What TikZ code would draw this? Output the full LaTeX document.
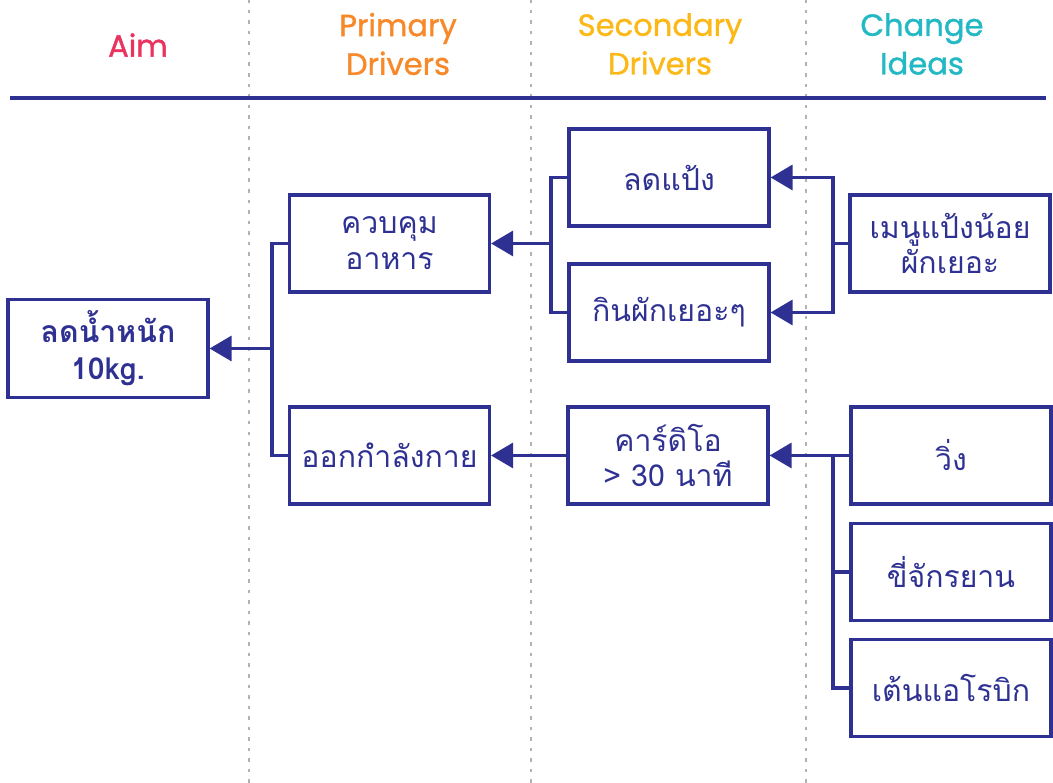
\documentclass[tikz,border=0pt]{standalone}
\usepackage{fontspec}
\newfontfamily\thaifont[Script=Thai]{Loma}
\newfontfamily\headfont[FakeBold=1.2]{Poppins}
\usetikzlibrary{arrows.meta}
\definecolor{navy}{HTML}{2E3192}
\definecolor{aimcol}{HTML}{E8345F}
\definecolor{primcol}{HTML}{F7892B}
\definecolor{seccol}{HTML}{FBB817}
\definecolor{ideacol}{HTML}{22B8C4}
\tikzset{
  box/.style={draw=navy, line width=0.9pt, rectangle, minimum width=2cm, minimum height=0.97cm, inner xsep=1pt, align=center, text=navy, font=\thaifont\fontsize{8.6}{10.2}\selectfont},
  link/.style={draw=navy, line width=0.9pt},
  tip/.style={link, -{Triangle[length=0.22cm, width=0.25cm]}},
  head/.style={font=\headfont\fontsize{8.7}{11}\selectfont, align=center},
  sep/.style={gray!60, dash pattern=on 1pt off 2pt, line width=0.5pt}
}
\begin{document}
\begin{tikzpicture}
\useasboundingbox (0,0) rectangle (10.53,7.83);

% column separators
\foreach \x in {2.49, 5.31, 8.06}
  \draw[sep] (\x,0)--(\x,7.83);
\draw[navy, line width=1pt] (0.1,6.85)--(10.46,6.85);

% headers
\node[head, text=aimcol] (haim) at (1.38,7.38) {Aim};
\node[head, text=primcol] (hprim) at (3.98,7.39) {Primary\\Drivers};
\node[head, text=seccol] (hsec) at (6.6,7.39) {Secondary\\Drivers};
\node[head, text=ideacol] (hidea) at (9.22,7.39) {Change\\Ideas};

% boxes
\node[box, font=\thaifont\bfseries\fontsize{8.6}{10.5}\selectfont] (aim) at (1.08,4.345) {ลดน้ำหนัก\\10kg.};
\node[box] (ctrl) at (3.895,5.395) {ควบคุม\\อาหาร};
\node[box] (exer) at (3.895,3.275) {ออกกำลังกาย};
\node[box] (flour) at (6.69,6.055) {ลดแป้ง};
\node[box] (veg) at (6.69,4.705) {กินผักเยอะๆ};
\node[box] (cardio) at (6.68,3.275) {คาร์ดิโอ\\> 30 นาที};
\node[box] (menu) at (9.5,5.395) {เมนูแป้งน้อย\\ผักเยอะ};
\node[box] (run) at (9.51,3.275) {วิ่ง};
\node[box] (bike) at (9.51,2.11) {ขี่จักรยาน};
\node[box] (dance) at (9.51,0.95) {เต้นแอโรบิก};

% junctions
\coordinate (jA) at (2.72,3.275);
\coordinate (jB) at (5.51,4.705);
\coordinate (jC) at (8.33,5.395);
\coordinate (jD) at (8.33,0.95);

\draw[link] (ctrl.west) -| (jA) -- (exer.west);
\draw[tip] (jA |- aim.east) -- (aim.east);

\draw[link] (flour.west) -| (jB) -- (veg.west);
\draw[tip] (jB |- ctrl.east) -- (ctrl.east);

\draw[link] (menu.west) -- (jC);
\draw[tip] (jC) |- (flour.east);
\draw[tip] (jC) |- (veg.east);

\draw[link] (run.west) -| (jD) -- (dance.west);
\draw[link] (bike.west) -- (jD |- bike.west);
\draw[tip] (jD |- run.west) -- (cardio.east);
\draw[tip] (cardio.west) -- (exer.east);

\end{tikzpicture}
\end{document}
